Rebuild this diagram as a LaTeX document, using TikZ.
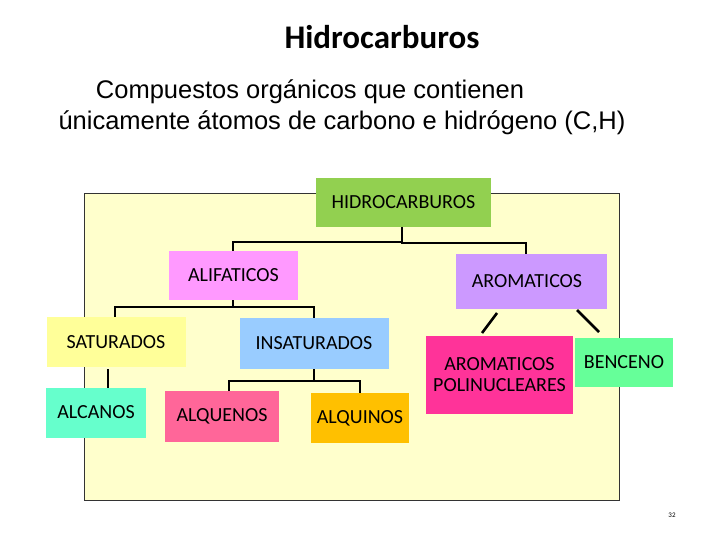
\documentclass[tikz,border=0pt]{standalone}
\usepackage{fontspec}
\setmainfont{Carlito}
\newfontfamily\arialf{Liberation Sans}
\begin{document}
\begin{tikzpicture}[x=1pt,y=-1pt,
  bx/.style={inner sep=0pt,font=\fontsize{20}{21}\selectfont,align=center,text=black},
  ln/.style={line width=2.6pt}]
\useasboundingbox (0,0) rectangle (720,540);
\definecolor{cHid}{RGB}{146,208,80}
\definecolor{cAli}{RGB}{255,153,255}
\definecolor{cAro}{RGB}{204,153,255}
\definecolor{cSat}{RGB}{255,255,153}
\definecolor{cIns}{RGB}{153,204,255}
\definecolor{cAlc}{RGB}{102,255,204}
\definecolor{cAle}{RGB}{255,102,153}
\definecolor{cAlq}{RGB}{255,192,0}
\definecolor{cPol}{RGB}{255,51,153}
\definecolor{cBen}{RGB}{102,255,153}
\definecolor{cBg}{RGB}{255,255,204}
\node[font=\bfseries\fontsize{33}{36}\selectfont] (t) at (382,37) {Hidrocarburos};
\node[font=\arialf\fontsize{25.5}{30}\selectfont] (s1) at (310,92) {Compuestos orgánicos que contienen};
\node[font=\arialf\fontsize{25.5}{30}\selectfont] (s2) at (342,123) {únicamente átomos de carbono e hidrógeno (C,H)};
\fill[cBg,draw=black!80,line width=0.6pt] (84,193) rectangle (619,500);
\node[font=\fontsize{7}{8}\selectfont] (pg) at (672,515) {32};
\fill[cHid] (316,178) rectangle (491,227); \node[bx] (hid) at (403.5,202.5) {HIDROCARBUROS};
\fill[cAli] (169,251) rectangle (298,300); \node[bx] (ali) at (233.5,275) {ALIFATICOS};
\fill[cAro] (456,254) rectangle (607,309); \node[bx] (aro) at (527,281) {AROMATICOS};
\fill[cSat] (47,317) rectangle (186,367); \node[bx] (sat) at (116,342) {SATURADOS};
\fill[cIns] (240,318) rectangle (389,369); \node[bx] (ins) at (314,343) {INSATURADOS};
\fill[cAlc] (46,388) rectangle (146,438); \node[bx] (alc) at (96,412) {ALCANOS};
\fill[cAle] (165,391) rectangle (279,442); \node[bx] (ale) at (222,416) {ALQUENOS};
\fill[cAlq] (311,393) rectangle (409,443); \node[bx] (alq) at (360,418) {ALQUINOS};
\fill[cPol] (426,336) rectangle (573,414); \node[bx] (pol) at (499.5,375) {AROMATICOS\\POLINUCLEARES};
\fill[cBen] (575,338) rectangle (673,387); \node[bx] (ben) at (624,362) {BENCENO};
\coordinate (h1) at (402,227); \coordinate (h2) at (402,242);
\draw[ln] (h1) -- (h2) -| (233,251);
\draw[ln] (h2) |- (526,243) -- (526,254);
\coordinate (a1) at (233,300); \coordinate (a2) at (233,307);
\draw[ln] (a1) -- (a2) -| (115,317);
\draw[ln] (a2) -| (314,318);
\draw[ln] (108,369) -- (108,388);
\coordinate (i1) at (314,369); \coordinate (i2) at (314,381);
\draw[ln] (i1) -- (i2) -| (229,391);
\draw[ln] (i2) -| (360,393);
\coordinate (p1) at (497,313); \coordinate (p2) at (482,333);
\draw[ln] (p1) -- (p2);
\coordinate (b1) at (577,310); \coordinate (b2) at (599,332);
\draw[ln] (b1) -- (b2);
\end{tikzpicture}
\end{document}
